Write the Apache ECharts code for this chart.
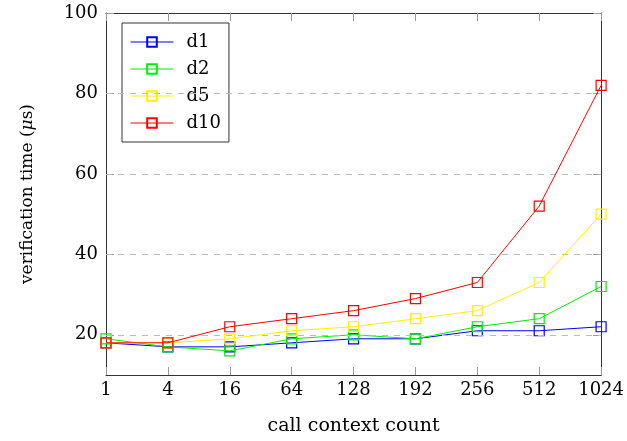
<!DOCTYPE html>
<html><head><meta charset="utf-8">
<script src="https://cdn.jsdelivr.net/npm/echarts@6/dist/echarts.min.js"></script>
<style>html,body{margin:0;padding:0;background:#fff}#c{width:627px;height:441px}</style>
</head><body><div id="c"></div>
<script>
const categories = ['1','4','16','64','128','192','256','512','1024'];
const d1  = [18, 17, 17, 18, 19, 19, 21, 21, 22];
const d2  = [19, 17, 16, 19, 20, 19, 22, 24, 32];
const d5  = [18, 18, 19, 21, 22, 24, 26, 33, 50];
const d10 = [18, 18, 22, 24, 26, 29, 33, 52, 82];
const yTicks = [20, 40, 60, 80, 100];
const gridLines = [20, 40, 60, 80];
const seriesNames = ['d1','d2','d5','d10'];
const colors = ['#0000ff','#00f000','#fff000','#ff0000'];

const FONT = 'DejaVu Serif';
const chart = echarts.init(document.getElementById('c'));
const values = [d1, d2, d5, d10];
const series = values.map((v, i) => ({
  name: seriesNames[i], type: 'line', data: v, symbol: 'rect', symbolSize: 10,
  lineStyle: {color: colors[i], width: 1},
  itemStyle: {color: 'rgba(0,0,0,0)', borderColor: colors[i], borderWidth: 1.2},
  emphasis: {disabled: true}, z: 3 + i
}));
series.push({
  type: 'line', data: [], silent: true, xAxisIndex: 0, yAxisIndex: 0,
  markLine: {symbol: 'none', silent: true, label: {show: false},
    lineStyle: {color: '#bbb', type: [6, 6], width: 1},
    data: gridLines.map(v => ({yAxis: v}))}
});
const axisLineStyle = {show: true, lineStyle: {color: '#333', width: 1}};
chart.setOption({
  animation: false,
  grid: {left: 106, right: 25, top: 13, bottom: 64},
  legend: {
    data: seriesNames, orient: 'vertical', left: 122, top: 23,
    backgroundColor: '#fff', borderColor: '#333', borderWidth: 1,
    padding: [10, 8, 10, 8], itemGap: 9, itemWidth: 43, itemHeight: 12,
    lineStyle: {width: 1},
    textStyle: {fontFamily: FONT, fontSize: 18, color: '#000', padding: [0, 0, 0, 8]}
  },
  xAxis: [{
    type: 'category', data: categories, boundaryGap: false,
    axisLine: axisLineStyle,
    axisTick: {show: true, inside: true, length: 8, lineStyle: {color: '#999'}},
    axisLabel: {fontFamily: FONT, fontSize: 18, color: '#000', margin: 6},
    name: 'call context count', nameLocation: 'middle', nameGap: 42,
    nameTextStyle: {fontFamily: FONT, fontSize: 19, color: '#000'},
    splitLine: {show: false}
  }, {
    type: 'category', data: categories, boundaryGap: false, position: 'top',
    axisLine: axisLineStyle,
    axisTick: {show: true, inside: true, length: 8, lineStyle: {color: '#999'}},
    axisLabel: {show: false}, splitLine: {show: false}
  }],
  yAxis: [{
    type: 'value', min: 10, max: 100, position: 'left',
    axisLine: axisLineStyle,
    axisTick: {show: true, inside: true, length: 8, customValues: yTicks, lineStyle: {color: '#999'}},
    axisLabel: {fontFamily: FONT, fontSize: 18, color: '#000', margin: 8, customValues: yTicks},
    splitLine: {show: false},
    name: 'verification time ({i|μ}s)', nameLocation: 'middle', nameGap: 70,
    nameTextStyle: {fontFamily: FONT, fontSize: 17, color: '#000',
      rich: {i: {fontFamily: FONT, fontSize: 17, fontStyle: 'italic', color: '#000'}}}
  }, {
    type: 'value', min: 10, max: 100, position: 'right',
    axisLine: axisLineStyle,
    axisTick: {show: true, inside: true, length: 8, customValues: yTicks, lineStyle: {color: '#999'}},
    axisLabel: {show: false}, splitLine: {show: false}
  }],
  series: series
});
</script></body></html>
